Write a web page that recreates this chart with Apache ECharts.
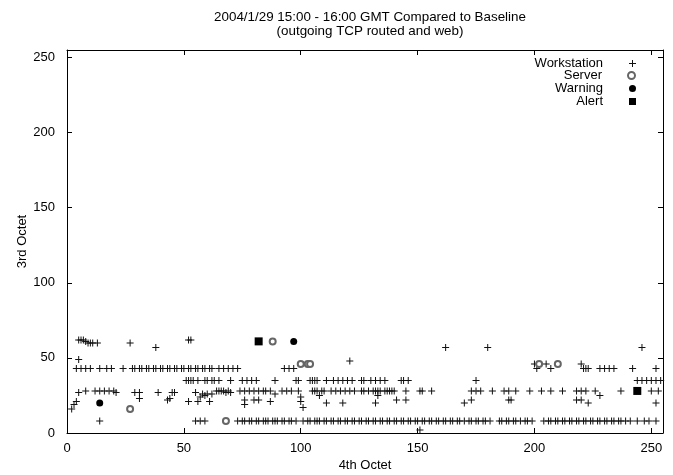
<!DOCTYPE html>
<html><head><meta charset="utf-8">
<script src="https://cdn.jsdelivr.net/npm/echarts@6/dist/echarts.min.js"></script>
<style>html,body{margin:0;padding:0;background:#fff}#c{width:673px;height:475px}</style>
</head><body><div id="c"></div>
<script>
const titleLines = ['2004/1/29 15:00 - 16:00 GMT Compared to Baseline', '(outgoing TCP routed and web)'];
const xName = '4th Octet';
const yName = '3rd Octet';
const seriesNames = ['Workstation', 'Server', 'Warning', 'Alert'];

const workstation = [
  // upper points
  [5,62],[6,62],[7,62],[8,61],[9,60],[10,60],[11,60],[13,60],[27,60],[38,57],[52,62],[53,62],[5,49],
  [121,48],[162,57],[180,57],[246,57],
  [200,46],[201,43],[205,46],[207,43],[220,46],[221,43],[222,43],[223,43],[228,43],[230,43],[232,43],[234,43],[242,43],[252,43],
  // row 43
  [4,43],[6,43],[8,43],[10,43],[14,43],[17,43],[19,43],[24,43],
  [28,43],[29,43],[31,43],[32,43],[34,43],[35,43],[37,43],[38,43],[40,43],[41,43],[43,43],[44,43],[46,43],[47,43],
  [49,43],[50,43],[52,43],[53,43],[55,43],[56,43],[58,43],[59,43],[61,43],[62,43],[65,43],[67,43],[69,43],[71,43],[73,43],
  [93,43],[95,43],[97,43],
  // row 35
  [51,35],[52,35],[53,35],[54,35],[56,35],[59,35],[60,35],[62,35],[63,35],[65,35],[70,35],[75,35],[77,35],[79,35],[81,35],
  [89,35],[98,35],[99,35],[104,35],[105,35],[106,35],[107,35],[111,35],[114,35],[116,35],[118,35],[120,35],[122,35],[126,35],
  [127,35],[130,35],[132,35],[134,35],[136,35],[143,35],[144,35],[146,35],[175,35],
  [244,35],[246,35],[248,35],[250,35],[252,35],[254,35],
  // row 28
  [5,27],[8,28],[12,28],[14,28],[16,28],[18,28],[20,28],[21,27],[29,27],[31,27],[39,27],[45,27],[46,27],[55,27],
  [58,26],[60,26],[62,26],[64,28],[65,28],[66,28],[67,28],[68,27],[69,28],[70,27],[74,28],[76,28],[78,28],[80,28],[82,28],[84,28],
  [85,28],[87,28],[89,26],[92,28],[94,28],[96,28],[99,28],[105,28],[106,28],[107,28],[108,25],[109,28],[110,28],
  [113,28],[115,28],[117,28],[119,28],[121,28],[123,28],[126,28],[127,28],[129,28],[131,28],[132,28],[133,28],[134,28],
  [136,28],[137,28],[138,28],[139,28],[140,28],[145,28],[151,28],[152,28],[156,28],[173,28],[175,28],[177,28],[182,28],
  [187,28],[189,28],[192,28],[198,28],[203,28],[207,28],[212,28],[218,28],[220,28],[222,28],[226,28],[228,25],[237,28],
  [250,28],[253,28],
  // lower scattered
  [2,16],[3,19],[4,21],[31,23],[43,22],[44,23],[52,21],[56,21],[57,24],[59,25],[61,21],[76,22],[76,19],[80,22],[82,22],
  [87,21],[100,24],[100,21],[101,17],[111,20],[118,20],[132,20],[133,25],[141,22],[145,22],[170,20],[173,22],
  [189,22],[190,22],[218,22],[220,22],[223,20],[252,20],[14,8],[151,2],
  // row 8
  [55,8],[57,8],[59,8],[73,8],[75,8],[76,8],[78,8],[79,8],[81,8],[82,8],[84,8],[85,8],[86,8],[88,8],[89,8],[90,8],[92,8],
  [93,8],[95,8],[96,8],[98,8],[101,8],[103,8],[104,8],[106,8],[107,8],[108,8],[110,8],[111,8],[113,8],[114,8],[116,8],
  [117,8],[119,8],[120,8],[122,8],[123,8],[125,8],[126,8],[128,8],[129,8],[131,8],[132,8],[134,8],[135,8],[137,8],[138,8],
  [140,8],[141,8],[143,8],[144,8],[146,8],[147,8],[149,8],[150,8],[152,8],[153,8],[155,8],[156,8],[158,8],[159,8],
  [161,8],[162,8],[164,8],[165,8],[167,8],[168,8],[170,8],[172,8],[173,8],[175,8],[176,8],[178,8],[179,8],[181,8],
  [185,8],[186,8],[188,8],[189,8],[191,8],[192,8],[194,8],[196,8],[197,8],[199,8],[204,8],[206,8],[207,8],[209,8],
  [210,8],[212,8],[213,8],[215,8],[216,8],[218,8],[219,8],[221,8],[222,8],[224,8],[225,8],[227,8],[228,8],[230,8],
  [231,8],[233,8],[234,8],[236,8],[237,8],[239,8],[241,8],[244,8],[247,8],[249,8],[252,8]
];
const server = [[27,16],[68,8],[88,61],[100,46],[103,46],[104,46],[202,46],[210,46]];
const warning = [[14,20],[97,61]];
const alert = [[82,61],[244,28]];

const plusPath = 'path://M3,0h1v3h3v1h-3v3h-1v-3h-3v-1h3z';
const font = 'Liberation Sans, Arial, sans-serif';
const axisCommon = {
  min: 0, max: 255, interval: 50,
  axisLine: { show: true, onZero: false, lineStyle: { color: '#000', width: 1 } },
  axisTick: { show: true, inside: true, length: 5, lineStyle: { color: '#000' } },
  splitLine: { show: false }
};
const chart = echarts.init(document.getElementById('c'), null, { renderer: 'canvas' });
const legendTops = [57, 69, 82, 95];
chart.setOption({
  animation: false,
  backgroundColor: '#fff',
  title: {
    text: titleLines.join('\n'), left: 365, top: 5, textAlign: 'center',
    textStyle: { fontFamily: font, fontSize: 13.4, fontWeight: 'normal', color: '#000', lineHeight: 14 }
  },
  legend: seriesNames.map((n, i) => ({
    data: [n], right: 37, top: legendTops[i], align: 'right', orient: 'vertical',
    itemWidth: 7, itemHeight: 7, itemGap: 0, padding: 0,
    itemStyle: { borderWidth: 1 },
    textStyle: { fontFamily: font, fontSize: 13, color: '#000', padding: [0, 21, 0, 0] }
  })),
  grid: { left: 67, right: 10, top: 50, bottom: 42, containLabel: false, outerBoundsMode: 'none' },
  xAxis: [
    Object.assign({}, axisCommon, {
      type: 'value', position: 'bottom', name: xName, nameLocation: 'middle', nameGap: 26, nameMoveOverlap: false,
      nameTextStyle: { fontFamily: font, fontSize: 13, color: '#000' },
      axisLabel: { fontFamily: font, fontSize: 13, color: '#000', margin: 9 }
    }),
    Object.assign({}, axisCommon, { type: 'value', position: 'top', axisLabel: { show: false } })
  ],
  yAxis: [
    Object.assign({}, axisCommon, {
      type: 'value', position: 'left', name: yName, nameLocation: 'middle', nameGap: 38, nameMoveOverlap: false,
      nameTextStyle: { fontFamily: font, fontSize: 13, color: '#000' },
      axisLabel: { fontFamily: font, fontSize: 13, color: '#000', margin: 12 }
    }),
    Object.assign({}, axisCommon, { type: 'value', position: 'right', axisLabel: { show: false } })
  ],
  series: [
    { name: seriesNames[0], type: 'scatter', data: workstation, symbol: plusPath, symbolSize: 7,
      itemStyle: { color: '#111', opacity: 1 } },
    { name: seriesNames[1], type: 'scatter', data: server, symbol: 'emptyCircle', symbolSize: 6,
      itemStyle: { color: '#666', borderColor: '#666', borderWidth: 1, opacity: 1 } },
    { name: seriesNames[2], type: 'scatter', data: warning, symbol: 'circle', symbolSize: 7,
      itemStyle: { color: '#000', opacity: 1 } },
    { name: seriesNames[3], type: 'scatter', data: alert, symbol: 'rect', symbolSize: 8,
      itemStyle: { color: '#000', opacity: 1 } }
  ]
});
</script></body></html>
